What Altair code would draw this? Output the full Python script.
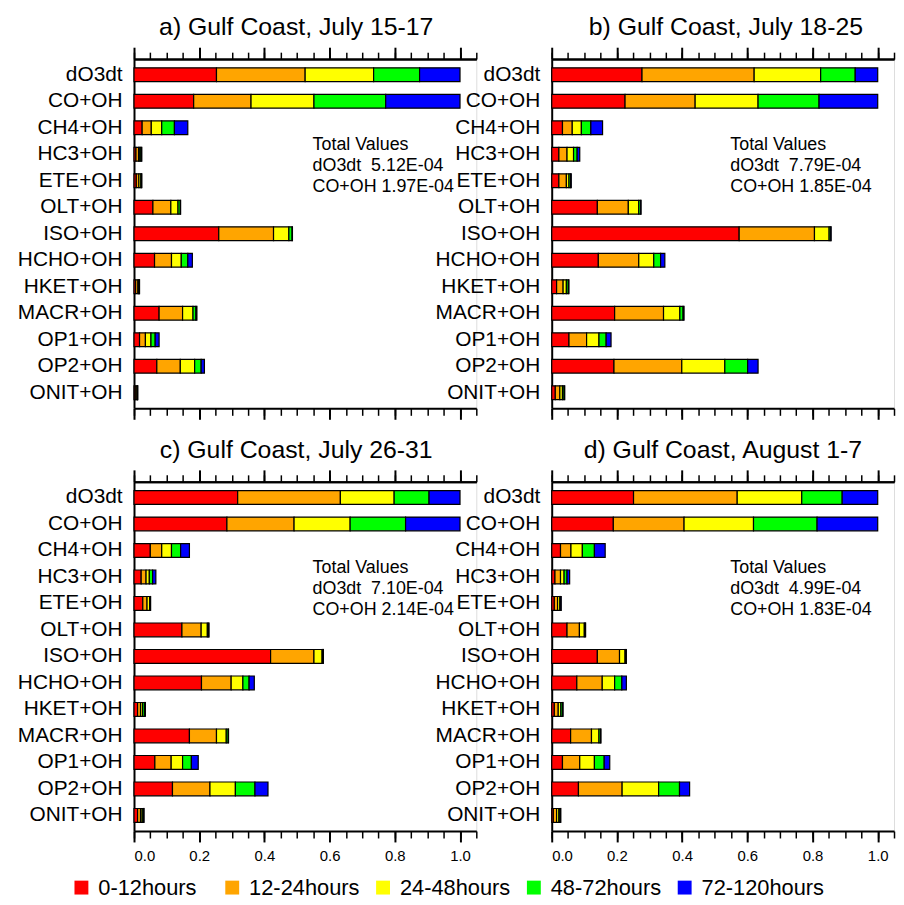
import altair as alt
import pandas as pd

FONT = "Liberation Sans"

CATEGORIES = ["dO3dt", "CO+OH", "CH4+OH", "HC3+OH", "ETE+OH", "OLT+OH", "ISO+OH",
              "HCHO+OH", "HKET+OH", "MACR+OH", "OP1+OH", "OP2+OH", "ONIT+OH"]
SEGMENTS = ["0-12hours", "12-24hours", "24-48hours", "48-72hours", "72-120hours"]
COLORS = ["#ff0000", "#ffa500", "#ffff00", "#00ff00", "#0000ff"]

MAJOR_TICKS = [0.0, 0.2, 0.4, 0.6, 0.8, 1.0]
MINOR_TICKS = [0.0, 0.05, 0.1, 0.15, 0.2, 0.25, 0.3, 0.35, 0.4, 0.45, 0.5, 0.55,
               0.6, 0.65, 0.7, 0.75, 0.8, 0.85, 0.9, 0.95, 1.0, 1.05]

TITLES = ["a) Gulf Coast, July 15-17", "b) Gulf Coast, July 18-25",
          "c) Gulf Coast, July 26-31", "d) Gulf Coast, August 1-7"]
TITLE_DX = [-9, 3, -9, 0]
TOTAL_DO3DT = ["5.12E-04", "7.79E-04", "7.10E-04", "4.99E-04"]
TOTAL_COOH = ["1.97E-04", "1.85E-04", "2.14E-04", "1.83E-04"]

# Panel a
A_0_12 = [0.253, 0.183, 0.025, 0.006, 0.007, 0.058, 0.260, 0.063, 0.005, 0.077, 0.017, 0.070, 0.004]
A_12_24 = [0.272, 0.176, 0.028, 0.008, 0.008, 0.055, 0.168, 0.052, 0.007, 0.072, 0.018, 0.072, 0.005]
A_24_48 = [0.210, 0.193, 0.032, 0.004, 0.006, 0.022, 0.047, 0.030, 0.003, 0.032, 0.017, 0.044, 0.001]
A_48_72 = [0.141, 0.220, 0.039, 0.004, 0.002, 0.007, 0.010, 0.020, 0.001, 0.009, 0.013, 0.020, 0.001]
A_72_120 = [0.124, 0.228, 0.041, 0.002, 0.001, 0.001, 0.001, 0.014, 0.001, 0.003, 0.012, 0.010, 0.0005]

# Panel b
B_0_12 = [0.277, 0.225, 0.033, 0.022, 0.022, 0.140, 0.575, 0.143, 0.015, 0.193, 0.053, 0.191, 0.011]
B_12_24 = [0.344, 0.215, 0.030, 0.025, 0.023, 0.095, 0.231, 0.124, 0.020, 0.150, 0.054, 0.208, 0.014]
B_24_48 = [0.204, 0.193, 0.028, 0.020, 0.008, 0.032, 0.045, 0.046, 0.010, 0.050, 0.038, 0.132, 0.008]
B_48_72 = [0.106, 0.187, 0.029, 0.011, 0.005, 0.006, 0.005, 0.021, 0.006, 0.010, 0.022, 0.070, 0.005]
B_72_120 = [0.069, 0.180, 0.036, 0.008, 0.002, 0.001, 0.001, 0.013, 0.002, 0.003, 0.015, 0.032, 0.002]

# Panel c
C_0_12 = [0.318, 0.285, 0.050, 0.022, 0.027, 0.147, 0.419, 0.207, 0.011, 0.170, 0.064, 0.118, 0.011]
C_12_24 = [0.315, 0.206, 0.035, 0.015, 0.013, 0.059, 0.133, 0.091, 0.009, 0.083, 0.050, 0.115, 0.009]
C_24_48 = [0.165, 0.172, 0.030, 0.010, 0.008, 0.019, 0.025, 0.036, 0.006, 0.030, 0.035, 0.078, 0.005]
C_48_72 = [0.107, 0.170, 0.028, 0.010, 0.002, 0.004, 0.003, 0.019, 0.006, 0.006, 0.027, 0.060, 0.004]
C_72_120 = [0.095, 0.167, 0.027, 0.010, 0.001, 0.001, 0.001, 0.016, 0.003, 0.001, 0.021, 0.040, 0.002]

# Panel d
D_0_12 = [0.251, 0.189, 0.027, 0.010, 0.008, 0.047, 0.140, 0.077, 0.008, 0.058, 0.033, 0.082, 0.005]
D_12_24 = [0.318, 0.217, 0.032, 0.017, 0.010, 0.038, 0.068, 0.078, 0.012, 0.064, 0.053, 0.134, 0.010]
D_24_48 = [0.198, 0.213, 0.035, 0.011, 0.007, 0.015, 0.017, 0.038, 0.008, 0.023, 0.045, 0.112, 0.007]
D_48_72 = [0.124, 0.195, 0.037, 0.009, 0.003, 0.003, 0.003, 0.022, 0.005, 0.005, 0.030, 0.064, 0.004]
D_72_120 = [0.109, 0.186, 0.033, 0.008, 0.001, 0.001, 0.001, 0.014, 0.002, 0.001, 0.017, 0.031, 0.002]

PANELS = [
    [A_0_12, A_12_24, A_24_48, A_48_72, A_72_120],
    [B_0_12, B_12_24, B_24_48, B_48_72, B_72_120],
    [C_0_12, C_12_24, C_24_48, C_48_72, C_72_120],
    [D_0_12, D_12_24, D_24_48, D_48_72, D_72_120],
]

W, H = 345, 352
xscale = alt.Scale(domain=[0, 1.05], nice=False, zero=True)
yscale = alt.Scale(type="band", paddingInner=0.48, paddingOuter=0.33, align=0.5)
yaxis = alt.Axis(title=None, ticks=False, labelFontSize=21, labelFont=FONT,
                 labelColor="black", labelPadding=12, domainWidth=2, domainColor="black")

legend = alt.Legend(
    title=None, orient="none", legendX=-64, legendY=824, direction="horizontal",
    columns=5, gridAlign="all", symbolType="square", symbolSize=196,
    symbolStrokeWidth=0, labelFontSize=22, labelFont=FONT, labelColor="black",
    labelOffset=6, columnPadding=0, labelLimit=200,
)


def build_panel(k, show_labels):
    rows = []
    for j, seg in enumerate(SEGMENTS):
        for i, cat in enumerate(CATEGORIES):
            rows.append({"cat": cat, "seg": seg, "idx": j, "value": PANELS[k][j][i]})
    df = pd.DataFrame(rows)

    yenc = alt.Y("cat:N", sort=CATEGORIES, scale=yscale, axis=yaxis)

    bars = alt.Chart(df).mark_bar(stroke="black", strokeWidth=1.2).encode(
        x=alt.X("value:Q", stack="zero", scale=xscale,
                axis=alt.Axis(orient="bottom", values=MAJOR_TICKS, format=".1f",
                              labels=show_labels, title=None, grid=False,
                              tickSize=11, tickWidth=2, tickColor="black",
                              domainWidth=2, domainColor="black",
                              labelFontSize=15, labelFont=FONT, labelColor="black",
                              labelPadding=7)),
        y=yenc,
        color=alt.Color("seg:N", scale=alt.Scale(domain=SEGMENTS, range=COLORS),
                        legend=legend),
        order=alt.Order("idx:Q", sort="ascending"),
    )

    def axis_layer(orient, values, size, width):
        return alt.Chart(df).mark_bar(opacity=0).encode(
            x=alt.X("value:Q", stack="zero", scale=xscale,
                    axis=alt.Axis(orient=orient, values=values, labels=False, title=None,
                                  grid=False, domain=(orient == "top"), domainWidth=2,
                                  domainColor="black", tickSize=size, tickWidth=width,
                                  tickColor="black")),
            y=yenc,
        )

    minor_bottom = axis_layer("bottom", MINOR_TICKS, 7, 1.5)
    major_top = axis_layer("top", MAJOR_TICKS, 12, 2)
    minor_top = axis_layer("top", MINOR_TICKS, 7, 1.5)

    text_df = pd.DataFrame({"t": ["Total Values\ndO3dt\u00a0 " + TOTAL_DO3DT[k] +
                                  "\nCO+OH " + TOTAL_COOH[k]]})
    text = alt.Chart(text_df).mark_text(
        align="left", baseline="top", fontSize=18, font=FONT, color="black",
        lineBreak="\n", lineHeight=21,
    ).encode(x=alt.value(180), y=alt.value(78), text="t:N")

    return alt.layer(bars, minor_bottom, major_top, minor_top, text).resolve_axis(
        x="independent"
    ).properties(
        width=W, height=H,
        title=alt.TitleParams(TITLES[k], fontSize=25, font=FONT, fontWeight="normal",
                              color="black", anchor="middle", offset=6,
                              dx=TITLE_DX[k]),
    )


a = build_panel(0, False)
b = build_panel(1, False)
c = build_panel(2, True)
d = build_panel(3, True)

chart = alt.concat(a, b, c, d, columns=2, spacing={"row": 74, "column": 76},
                   bounds="flush").properties(
    padding={"left": 8, "top": 3, "right": 0, "bottom": 0}
).configure_view(stroke="black", strokeWidth=2).configure(font=FONT)

chart.save("out.html", embed_options={"renderer": "svg", "actions": False})
